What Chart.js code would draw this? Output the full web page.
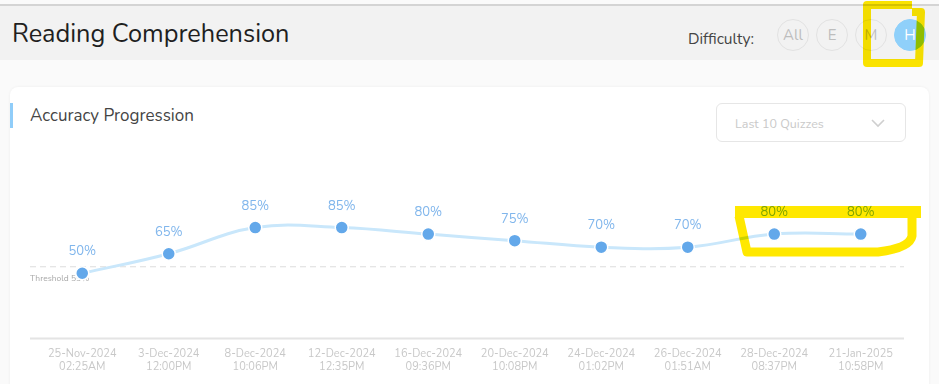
<!DOCTYPE html>
<html>
<head>
<meta charset="utf-8">
<script src="https://cdn.jsdelivr.net/npm/chart.js@4.4.1/dist/chart.umd.min.js"></script>
<style>
  html, body { margin: 0; padding: 0; }
  body { width: 939px; height: 384px; background: #fafafa; position: relative; overflow: hidden;
         font-family: "Nunito", Lato, "Open Sans", sans-serif; }
  .topline { position: absolute; left: 0; top: 4px; width: 939px; height: 2px; background: #d4d4d4; }
  .header { position: absolute; left: 0; top: 6px; width: 939px; height: 54px; background: #f2f2f2; }
  .title { position: absolute; left: 12px; top: 16px; font-size: 25.3px; color: #1f1f1f; }
  .diff { position: absolute; left: 688px; top: 28px; font-size: 15.5px; color: #444; }
  .btn { position: absolute; top: 19px; width: 32px; height: 32px; border-radius: 50%;
         border: 1px solid #e2e2e2; box-sizing: border-box; color: #bdbdbd; font-size: 15px;
         text-align: center; line-height: 30px; }
  .btn.on { background: #8fd0fa; border-color: #8fd0fa; color: #fff; }
  .card { position: absolute; left: 10px; top: 87px; width: 919px; height: 320px; background: #fff;
          border-radius: 8px; box-shadow: 0 0 3px rgba(0,0,0,0.06); }
  .accent { position: absolute; left: 10px; top: 103px; width: 2.5px; height: 25px; background: #90cdf9; }
  .ctitle { position: absolute; left: 30px; top: 104px; font-size: 17px; color: #444; }
  .dropdown { position: absolute; left: 716px; top: 103px; width: 190px; height: 39px; box-sizing: border-box;
              border: 1px solid #e6e6e6; border-radius: 6px; }
  .dropdown span { position: absolute; left: 18px; top: 11px; font-size: 12.5px; color: #c9c9c9; }
  .dropdown svg { position: absolute; left: 153px; top: 13px; }
  #wrap { position: absolute; left: 0; top: 150px; width: 939px; height: 234px; }
  #marks { position: absolute; left: 0; top: 0; mix-blend-mode: multiply; pointer-events: none; }
</style>
</head>
<body>
<div class="topline"></div>
<div class="header"></div>
<div class="title">Reading Comprehension</div>
<div class="diff">Difficulty:</div>
<div class="btn" style="left:777px">All</div>
<div class="btn" style="left:816px">E</div>
<div class="btn" style="left:855px">M</div>
<div class="btn on" style="left:894px">H</div>

<div class="card"></div>
<div class="accent"></div>
<div class="ctitle">Accuracy Progression</div>
<div class="dropdown"><span>Last 10 Quizzes</span>
  <svg width="16" height="12" viewBox="0 0 16 12"><path d="M2 3 L8 9 L14 3" fill="none" stroke="#cfcfcf" stroke-width="1.6"/></svg>
</div>

<div id="wrap"><canvas id="chart"></canvas></div>

<svg id="marks" width="939" height="384">
  <path d="M912 5 L867 5 L867 63 L919 63 L921 12 L912 12" fill="none" stroke="#ffe800" stroke-width="8" stroke-linejoin="round"/>
  <path d="M735 212 L921 212" fill="none" stroke="#ffe800" stroke-width="12"/>
  <path d="M739 216 L747 252 L878 252 Q910 248 912 236 L912 216" fill="none" stroke="#ffe800" stroke-width="9" stroke-linejoin="round"/>
</svg>

<script>
const dates = ['25-Nov-2024', '3-Dec-2024', '8-Dec-2024', '12-Dec-2024', '16-Dec-2024',
               '20-Dec-2024', '24-Dec-2024', '26-Dec-2024', '28-Dec-2024', '21-Jan-2025'];
const times = ['02:25AM', '12:00PM', '10:06PM', '12:35PM', '09:36PM',
               '10:08PM', '01:02PM', '01:51AM', '08:37PM', '10:58PM'];
const accuracy = [50, 65, 85, 85, 80, 75, 70, 70, 80, 80];
const threshold = 55;

const labels = dates.map((d, i) => [d, times[i]]);

const extras = {
  id: 'extras',
  beforeDatasetsDraw(chart) {
    const { ctx, chartArea, scales } = chart;
    const y = scales.y.getPixelForValue(threshold);
    ctx.save();
    ctx.strokeStyle = '#dcdcdc';
    ctx.lineWidth = 1;
    ctx.setLineDash([6, 4]);
    ctx.beginPath();
    ctx.moveTo(chartArea.left - 9, y);
    ctx.lineTo(chartArea.right, y);
    ctx.stroke();
    ctx.setLineDash([]);
    ctx.strokeStyle = '#e4e4e4';
    ctx.lineWidth = 2;
    ctx.beginPath();
    ctx.moveTo(chartArea.left - 9, chartArea.bottom);
    ctx.lineTo(chartArea.right, chartArea.bottom);
    ctx.stroke();
    ctx.fillStyle = '#a8a8a8';
    ctx.font = '8.5px Nunito, Lato, sans-serif';
    ctx.textBaseline = 'middle';
    ctx.fillText('Threshold ' + threshold + '%', chartArea.left - 9, y + 12);
    ctx.restore();
  },
  afterDatasetsDraw(chart) {
    const { ctx } = chart;
    const meta = chart.getDatasetMeta(0);
    ctx.save();
    ctx.fillStyle = '#80b6ec';
    ctx.font = '13px Nunito, Lato, sans-serif';
    ctx.textAlign = 'center';
    ctx.textBaseline = 'middle';
    meta.data.forEach((pt, i) => {
      ctx.fillText(accuracy[i] + '%', pt.x, pt.y - 21);
    });
    ctx.restore();
  }
};

new Chart(document.getElementById('chart'), {
  type: 'line',
  data: {
    labels: labels,
    datasets: [{
      data: accuracy,
      borderColor: '#c9e7fb',
      borderWidth: 3,
      tension: 0.4,
      pointRadius: 6.5,
      pointBackgroundColor: '#63a8ea',
      pointBorderColor: '#ffffff',
      pointBorderWidth: 1.5,
      fill: false
    }]
  },
  options: {
    responsive: true,
    maintainAspectRatio: false,
    animation: false,
    layout: { padding: { top: 58, left: 39, right: 35, bottom: 1 } },
    plugins: { legend: { display: false }, tooltip: { enabled: false } },
    scales: {
      y: { display: false, min: 0, max: 100 },
      x: {
        offset: true,
        grid: { display: false, drawTicks: false },
        border: { display: false },
        ticks: { color: '#c8c8c8', font: { size: 11, family: 'Nunito, Lato, sans-serif' }, padding: 9, maxRotation: 0 }
      }
    }
  },
  plugins: [extras]
});
</script>
</body>
</html>
